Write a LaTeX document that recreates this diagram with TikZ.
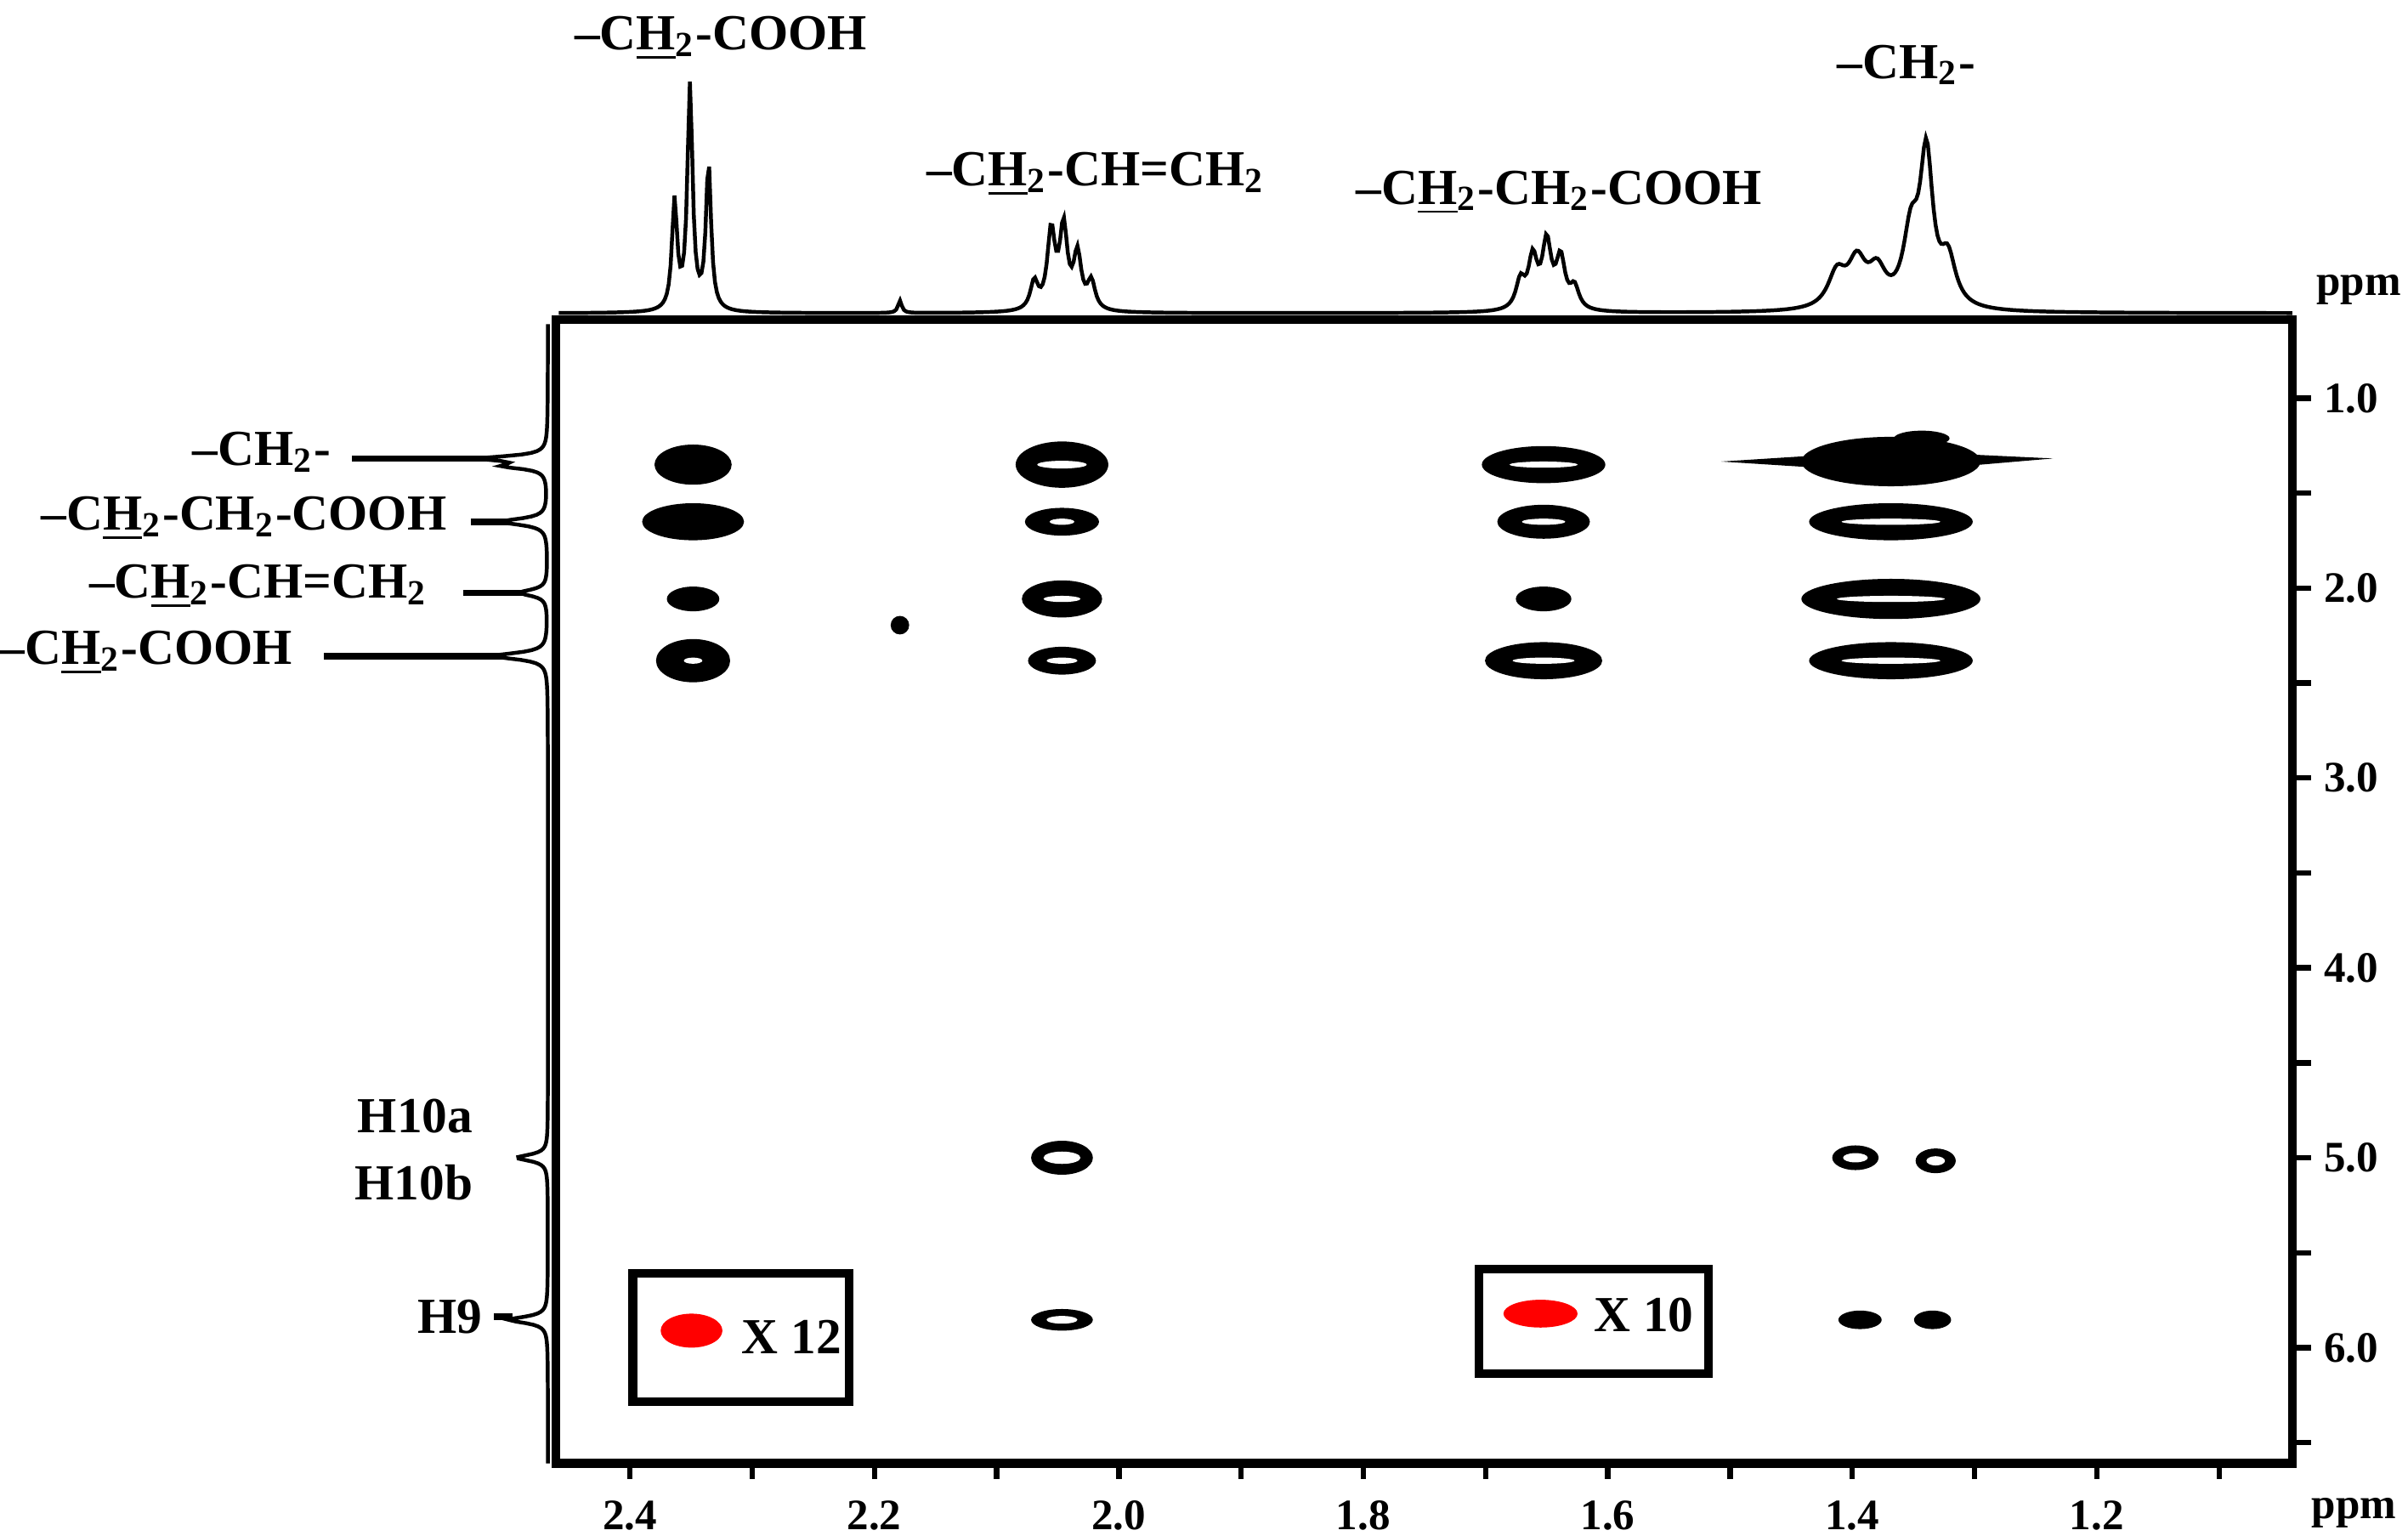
\documentclass[tikz,border=0pt]{standalone}
\usepackage{fontspec}
\setmainfont{Liberation Serif}
\begin{document}
\begin{tikzpicture}[x=0.01cm,y=-0.01cm,
  lab/.style={font=\fontsize{9.3}{11}\selectfont\bfseries,inner sep=0pt},
  tk/.style={font=\fontsize{8}{10}\selectfont\bfseries,inner sep=0pt},
  pk/.style={fill=black},
  spec/.style={line width=0.7pt}]
\useasboundingbox (0,0) rectangle (1560,995);
\newcommand{\Lz}[3]{#2/(1+pow(min(abs(\x-#1)/#3,100),2))}
\newcommand{\Ly}[3]{#2/(1+pow(min(abs(\y-#1)/#3,100),2))}
% top 1D spectrum
\draw[spec] plot[domain=362:1485,samples=900,variable=\x]
 (\x,{203-(\Lz{437}{70}{2}+\Lz{447}{145}{2}+\Lz{459}{95}{2}+\Lz{583}{8}{1.5}
 +\Lz{670}{18}{3}+\Lz{681}{50}{3}+\Lz{689}{52}{3}+\Lz{698}{35}{3}+\Lz{707}{18}{3}
 +\Lz{985}{18}{3.5}+\Lz{993}{32}{3.5}+\Lz{1002}{42}{3.5}+\Lz{1011}{32}{3.5}+\Lz{1020}{14}{3.5}
 +\Lz{1190}{22}{7}+\Lz{1203}{28}{7}+\Lz{1216}{22}{7}+\Lz{1238}{45}{6}+\Lz{1248}{95}{5}+\Lz{1262}{30}{6})});
% left 1D spectrum
\draw[spec] plot[domain=210:948,samples=700,variable=\y]
 ({355-(\Ly{297}{40}{2}+\Ly{302}{25}{2}+\Ly{338}{30}{2.5}+\Ly{384}{18}{2.5}+\Ly{425}{35}{2.5}+\Ly{750}{20}{2.5}+\Ly{855}{25}{2.5})},\y);
% frame
\draw[line width=1.6pt] (360,207) rectangle (1485,948);
% right ticks
\foreach \v in {1,1.5,...,6.5}{\draw[line width=1pt] (1485,{258+(\v-1)*123}) -- (1497,{258+(\v-1)*123});}
\foreach \v in {1,...,6}{\node[tk,anchor=west] at (1505,{258+(\v-1)*123}) {\v.0};}
\node[tk,anchor=west] at (1500,188) {ppm};
% bottom ticks
\foreach \p in {1.1,1.2,...,2.45}{\draw[line width=1pt] ({408+(2.4-\p)*792},948) -- ({408+(2.4-\p)*792},958);}
\foreach \p/\t in {2.4/2.4,2.2/2.2,2.0/2.0,1.8/1.8,1.6/1.6,1.4/1.4,1.2/1.2}{\node[tk] at ({408+(2.4-\p)*792},982) {\t};}
\node[tk,anchor=west] at (1497,980) {ppm};
% cross peaks column 2.35
\fill[pk] (449,301) ellipse (25 and 13);
\fill[pk] (449,338) ellipse (33 and 12);
\fill[pk] (449,388) ellipse (17 and 8);
\fill[pk] (449,428) ellipse (24 and 14);
\fill[white] (449,428) ellipse (6 and 2);
% column 2.05
\fill[pk] (688,301) ellipse (30 and 15); \fill[white] (688,301) ellipse (16 and 2.5);
\fill[pk] (688,338) ellipse (24 and 9); \fill[white] (688,338) ellipse (8 and 2);
\fill[pk] (688,388) ellipse (26 and 12); \fill[white] (688,388) ellipse (12 and 2);
\fill[pk] (688,428) ellipse (22 and 9); \fill[white] (688,428) ellipse (10 and 2);
\fill[pk] (688,750) ellipse (20 and 11); \fill[white] (688,750) ellipse (12 and 4);
\fill[pk] (688,855) ellipse (20 and 7); \fill[white] (688,855) ellipse (10 and 2.5);
\fill[pk] (583,405) circle (6);
% column 1.65
\fill[pk] (1000,301) ellipse (40 and 12); \fill[white] (1000,301) ellipse (22 and 2);
\fill[pk] (1000,338) ellipse (30 and 11); \fill[white] (1000,338) ellipse (14 and 2);
\fill[pk] (1000,388) ellipse (18 and 8);
\fill[pk] (1000,428) ellipse (38 and 12); \fill[white] (1000,428) ellipse (20 and 2);
% column 1.35
\fill[pk] (1225,299) ellipse (58 and 16); \fill[white] (1225,299) ellipse (35 and 2.5);
\fill[pk] (1115,299) -- (1225,292) -- (1330,297) -- (1225,306) -- cycle;
\fill[pk] (1245,284) ellipse (18 and 5);
\fill[pk] (1225,338) ellipse (53 and 12); \fill[white] (1225,338) ellipse (32 and 2);
\fill[pk] (1225,388) ellipse (58 and 13); \fill[white] (1225,388) ellipse (35 and 2);
\fill[pk] (1225,428) ellipse (53 and 12); \fill[white] (1225,428) ellipse (32 and 2);
\fill[pk] (1202,750) ellipse (15 and 8); \fill[white] (1202,750) ellipse (8 and 3);
\fill[pk] (1254,752) ellipse (13 and 8); \fill[white] (1254,752) ellipse (6 and 3);
\fill[pk] (1205,855) ellipse (14 and 6);
\fill[pk] (1252,855) ellipse (12 and 6);
% legend boxes
\draw[line width=1.6pt] (410,825) rectangle (550,908);
\fill[red] (448,862) ellipse (20 and 11);
\node[lab,anchor=west] at (480,866) {X 12};
\draw[line width=1.6pt] (958,822) rectangle (1107,890);
\fill[red] (998,851) ellipse (24 and 9);
\node[lab,anchor=west] at (1032,852) {X 10};
% top labels
\node[lab] at (467,25) {–C\underline{H}\textsubscript{2}-COOH};
\node[lab] at (710,113) {–C\underline{H}\textsubscript{2}-CH=CH\textsubscript{2}};
\node[lab] at (1010,125) {–C\underline{H}\textsubscript{2}-CH\textsubscript{2}-COOH};
\node[lab] at (1235,42) {–CH\textsubscript{2}-};
% left labels
\node[lab,anchor=east] at (215,293) {–CH\textsubscript{2}-};
\node[lab,anchor=east] at (290,336) {–C\underline{H}\textsubscript{2}-CH\textsubscript{2}-COOH};
\node[lab,anchor=east] at (278,380) {–C\underline{H}\textsubscript{2}-CH=CH\textsubscript{2}};
\node[lab,anchor=east] at (190,423) {–C\underline{H}\textsubscript{2}-COOH};
\node[lab,anchor=east] at (307,723) {H10a};
\node[lab,anchor=east] at (307,766) {H10b};
\node[lab,anchor=east] at (313,853) {H9};
\draw[line width=1.2pt] (228,297) -- (320,297);
\draw[line width=1.2pt] (305,338) -- (330,338);
\draw[line width=1.2pt] (300,384) -- (338,384);
\draw[line width=1.2pt] (210,425) -- (325,425);
\draw[line width=1.2pt] (320,853) -- (332,853);
\end{tikzpicture}
\end{document}
